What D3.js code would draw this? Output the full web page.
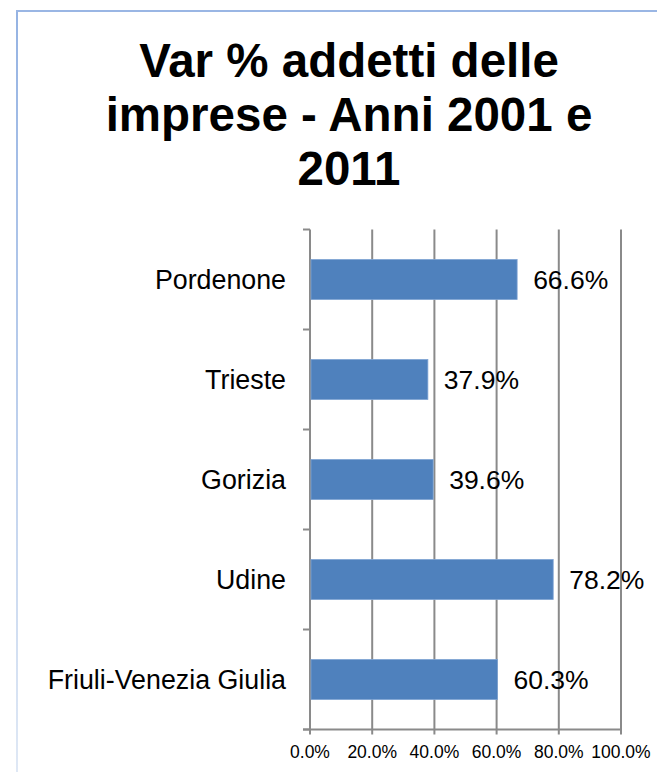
<!DOCTYPE html>
<html>
<head>
<meta charset="utf-8">
<script src="https://cdn.jsdelivr.net/npm/d3@7"></script>
<style>
body{margin:0;background:#fff;}
text{font-family:Arial,"Liberation Sans",sans-serif;}
</style>
</head>
<body>
<svg id="chart" width="657" height="772"></svg>
<script>
// dati
var categories=["Pordenone","Trieste","Gorizia","Udine","Friuli-Venezia Giulia"];
var values=[66.6,37.9,39.6,78.2,60.3];
var tickValues=[0,20,40,60,80,100];
var titleLines=["Var % addetti delle","imprese - Anni 2001 e","2011"];

var PLOTLEFT=310;
var PLOTRIGHT=621;
var PLOTTOP=229.5;
var PLOTBOTTOM=729.5;
var BARCOLOR="#4f81bd";
var GRIDCOLOR="#8a8a8a";

var svg=d3.select("#chart");

var x=d3.scaleLinear().domain([0,100]).range([PLOTLEFT,PLOTRIGHT]);
var y=d3.scaleBand().domain(categories).range([PLOTTOP,PLOTBOTTOM]).paddingInner(0.6).paddingOuter(0.3);

drawFrame();
drawTitle();
drawGrid();
drawBars();

//cornice
function drawFrame(){
	var grad=svg.append("defs").append("linearGradient")
		.attr("id","leftFade")
		.attr("x1",0).attr("y1",0).attr("x2",0).attr("y2",1);
	grad.append("stop").attr("offset","0%").attr("stop-color","#95b3e3");
	grad.append("stop").attr("offset","100%").attr("stop-color","#dfe8f5");
	svg.append("rect")
		.attr("x",16).attr("y",10)
		.attr("width",2).attr("height",762)
		.attr("fill","url(#leftFade)");
	svg.append("rect")
		.attr("x",16).attr("y",10)
		.attr("width",641).attr("height",2)
		.attr("fill","#9ab6e4");
}

//titolo
function drawTitle(){
	svg.append("g").selectAll("text")
		.data(titleLines)
		.join("text")
		.attr("x",349)
		.attr("y",function(d,i){return 77+i*54;})
		.attr("text-anchor","middle")
		.style("font-size","47.5px")
		.style("font-weight","bold")
		.style("fill","#000")
		.text(function(d){return d;});
}

//griglia e assi
function drawGrid(){
	svg.append("g").selectAll("line")
		.data(tickValues)
		.join("line")
		.attr("x1",function(d){return x(d);})
		.attr("x2",function(d){return x(d);})
		.attr("y1",PLOTTOP)
		.attr("y2",PLOTBOTTOM+5)
		.style("stroke",GRIDCOLOR)
		.style("stroke-width","2px");

	//tacche asse categorie
	var bounds=categories.map(function(c){return y(c)-y.step()*0.3;});
	bounds.push(PLOTBOTTOM);
	svg.append("g").selectAll("line")
		.data(bounds)
		.join("line")
		.attr("x1",PLOTLEFT-7)
		.attr("x2",PLOTLEFT)
		.attr("y1",function(d){return d;})
		.attr("y2",function(d){return d;})
		.style("stroke",GRIDCOLOR)
		.style("stroke-width","2px");

	svg.append("line")
		.attr("x1",PLOTLEFT-7)
		.attr("x2",PLOTRIGHT+1)
		.attr("y1",PLOTBOTTOM)
		.attr("y2",PLOTBOTTOM)
		.style("stroke",GRIDCOLOR)
		.style("stroke-width","2px");

	svg.append("g").selectAll("text")
		.data(tickValues)
		.join("text")
		.attr("x",function(d){return x(d);})
		.attr("y",PLOTBOTTOM+28)
		.attr("text-anchor","middle")
		.style("font-size","17.5px")
		.style("fill","#000")
		.text(function(d){return d.toFixed(1)+"%";});

	svg.append("g").selectAll("text")
		.data(categories)
		.join("text")
		.attr("x",PLOTLEFT-24)
		.attr("y",function(d){return y(d)+y.bandwidth()/2;})
		.attr("dy","0.35em")
		.attr("text-anchor","end")
		.style("font-size","26.8px")
		.style("fill","#000")
		.text(function(d){return d;});
}

//barre
function drawBars(){
	svg.append("g").selectAll("rect")
		.data(values)
		.join("rect")
		.attr("x",x(0)+1)
		.attr("y",function(d,i){return y(categories[i]);})
		.attr("width",function(d){return x(d)-x(0)-1;})
		.attr("height",y.bandwidth())
		.attr("fill",BARCOLOR)
		.attr("stroke","#7ea3d3")
		.attr("stroke-width",0.8);

	svg.append("g").selectAll("text")
		.data(values)
		.join("text")
		.attr("x",function(d){return x(d)+16;})
		.attr("y",function(d,i){return y(categories[i])+y.bandwidth()/2;})
		.attr("dy","0.35em")
		.style("font-size","26.5px")
		.style("fill","#000")
		.text(function(d){return d.toFixed(1)+"%";});
}
</script>
</body>
</html>
